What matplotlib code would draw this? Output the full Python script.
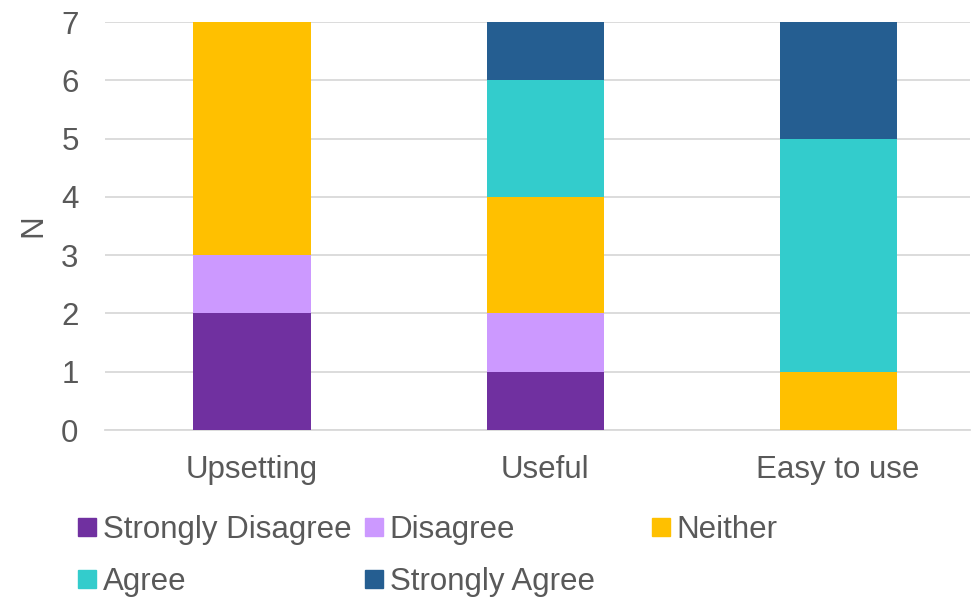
import matplotlib
matplotlib.use('Agg')
import matplotlib.pyplot as plt
from matplotlib.lines import Line2D
import numpy as np

plt.rcParams['font.family'] = ['Liberation Sans', 'DejaVu Sans']

categories = ['Upsetting', 'Useful', 'Easy to use']
series = ['Strongly Disagree', 'Disagree', 'Neither', 'Agree', 'Strongly Agree']
strongly_disagree = [2, 1, 0]
disagree = [1, 1, 0]
neither = [4, 2, 1]
agree = [0, 2, 4]
strongly_agree = [0, 1, 2]
yticks = [0, 1, 2, 3, 4, 5, 6, 7]

colors = ['#7030A0', '#CC99FF', '#FFC000', '#33CCCC', '#255E91']
text_col = '#595959'
grid_col = '#D9D9D9'
fs = 22.5

fig = plt.figure(figsize=(9.72, 5.98), dpi=100)
ax = fig.add_axes([105 / 972, 1 - 430 / 598, 865 / 972, 408 / 598])

x = np.arange(len(categories))
bottom = np.zeros(len(categories))
values = [strongly_disagree, disagree, neither, agree, strongly_agree]
for vals, col, name in zip(values, colors, series):
    ax.bar(x, vals, bottom=bottom, width=0.40, color=col, label=name, zorder=3)
    bottom += np.array(vals)

ax.set_xlim(-0.502, 2.45)
ax.set_ylim(0, 7)
ax.set_yticks(yticks)
ax.set_xticks(x)
ax.set_xticklabels(categories)
ax.yaxis.grid(True, color=grid_col, linewidth=1.3, zorder=0)
ax.set_axisbelow(True)
for s in ['top', 'right', 'left']:
    ax.spines[s].set_visible(False)
ax.spines['bottom'].set_color(grid_col)
ax.spines['bottom'].set_linewidth(1.3)
ax.tick_params(axis='both', length=0, labelsize=fs, colors=text_col)
ax.tick_params(axis='y', pad=19)
ax.tick_params(axis='x', pad=18)
ax.set_ylabel('N', fontsize=fs, color=text_col, labelpad=9)

# legend: three columns placed by hand so spacing matches
def handle(c):
    return Line2D([], [], marker='s', linestyle='none', markersize=12.5,
                  markerfacecolor=c, markeredgecolor=c)

groups = [[0, 3], [1, 4], [2]]
xpos = [78, 365, 652]
for g, xp in zip(groups, xpos):
    fig.legend([handle(colors[i]) for i in g], [series[i] for i in g],
               loc='upper left', bbox_to_anchor=(xp / 972, 1 - 515 / 598),
               frameon=False, fontsize=fs, labelcolor=text_col,
               handlelength=0.55, handletextpad=0.24, labelspacing=0.7,
               borderpad=0, borderaxespad=0)

fig.savefig('out.png', dpi=100)
